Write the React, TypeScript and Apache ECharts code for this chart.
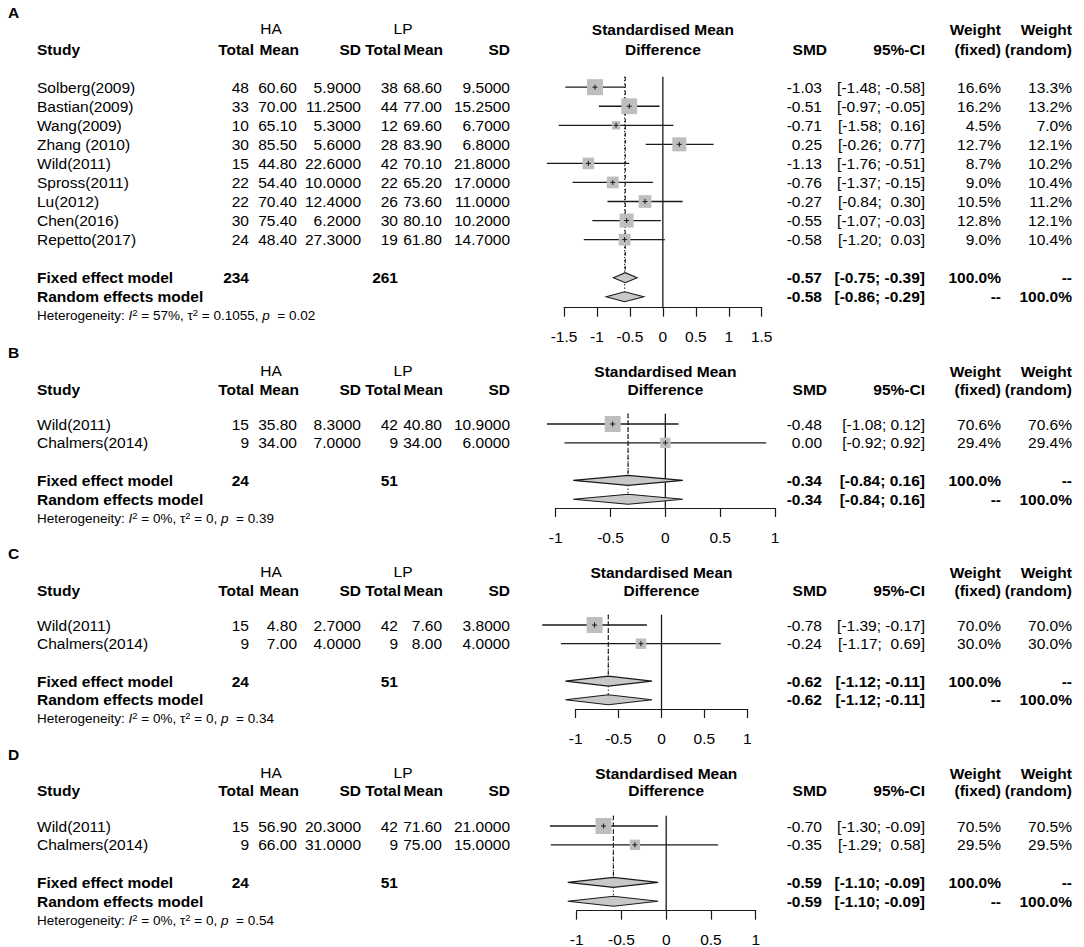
import React, { useEffect, useRef } from "react";
import * as echarts from "echarts";

// ---------------- Panel A ----------------
const studiesA = ["Solberg(2009)", "Bastian(2009)", "Wang(2009)", "Zhang (2010)", "Wild(2011)", "Spross(2011)", "Lu(2012)", "Chen(2016)", "Repetto(2017)"];
const haTotalA = [48, 33, 10, 30, 15, 22, 22, 30, 24];
const haMeanA = [60.6, 70.0, 65.1, 85.5, 44.8, 54.4, 70.4, 75.4, 48.4];
const haSdA = [5.9, 11.25, 5.3, 5.6, 22.6, 10.0, 12.4, 6.2, 27.3];
const lpTotalA = [38, 44, 12, 28, 42, 22, 26, 30, 19];
const lpMeanA = [68.6, 77.0, 69.6, 83.9, 70.1, 65.2, 73.6, 80.1, 61.8];
const lpSdA = [9.5, 15.25, 6.7, 6.8, 21.8, 17.0, 11.0, 10.2, 14.7];
const smdA = [-1.03, -0.51, -0.71, 0.25, -1.13, -0.76, -0.27, -0.55, -0.58];
const lowerA = [-1.48, -0.97, -1.58, -0.26, -1.76, -1.37, -0.84, -1.07, -1.2];
const upperA = [-0.58, -0.05, 0.16, 0.77, -0.51, -0.15, 0.3, -0.03, 0.03];
const weightFixedA = [16.6, 16.2, 4.5, 12.7, 8.7, 9.0, 10.5, 12.8, 9.0];
const weightRandomA = [13.3, 13.2, 7.0, 12.1, 10.2, 10.4, 11.2, 12.1, 10.4];
const fixedModelA = [-0.57, -0.75, -0.39];
const randomModelA = [-0.58, -0.86, -0.29];
const totalsA = [234, 261];
const heterogeneityA = ["57%", "0.1055", "0.02"];
const ticksA = [-1.5, -1, -0.5, 0, 0.5, 1, 1.5];

// ---------------- Panel B ----------------
const studiesB = ["Wild(2011)", "Chalmers(2014)"];
const haTotalB = [15, 9];
const haMeanB = [35.8, 34.0];
const haSdB = [8.3, 7.0];
const lpTotalB = [42, 9];
const lpMeanB = [40.8, 34.0];
const lpSdB = [10.9, 6.0];
const smdB = [-0.48, 0.0];
const lowerB = [-1.08, -0.92];
const upperB = [0.12, 0.92];
const weightFixedB = [70.6, 29.4];
const weightRandomB = [70.6, 29.4];
const fixedModelB = [-0.34, -0.84, 0.16];
const randomModelB = [-0.34, -0.84, 0.16];
const totalsB = [24, 51];
const heterogeneityB = ["0%", "0", "0.39"];
const ticksB = [-1, -0.5, 0, 0.5, 1];

// ---------------- Panel C ----------------
const studiesC = ["Wild(2011)", "Chalmers(2014)"];
const haTotalC = [15, 9];
const haMeanC = [4.8, 7.0];
const haSdC = [2.7, 4.0];
const lpTotalC = [42, 9];
const lpMeanC = [7.6, 8.0];
const lpSdC = [3.8, 4.0];
const smdC = [-0.78, -0.24];
const lowerC = [-1.39, -1.17];
const upperC = [-0.17, 0.69];
const weightFixedC = [70.0, 30.0];
const weightRandomC = [70.0, 30.0];
const fixedModelC = [-0.62, -1.12, -0.11];
const randomModelC = [-0.62, -1.12, -0.11];
const totalsC = [24, 51];
const heterogeneityC = ["0%", "0", "0.34"];
const ticksC = [-1, -0.5, 0, 0.5, 1];

// ---------------- Panel D ----------------
const studiesD = ["Wild(2011)", "Chalmers(2014)"];
const haTotalD = [15, 9];
const haMeanD = [56.9, 66.0];
const haSdD = [20.3, 31.0];
const lpTotalD = [42, 9];
const lpMeanD = [71.6, 75.0];
const lpSdD = [21.0, 15.0];
const smdD = [-0.7, -0.35];
const lowerD = [-1.3, -1.29];
const upperD = [-0.09, 0.58];
const weightFixedD = [70.5, 29.5];
const weightRandomD = [70.5, 29.5];
const fixedModelD = [-0.59, -1.1, -0.09];
const randomModelD = [-0.59, -1.1, -0.09];
const totalsD = [24, 51];
const heterogeneityD = ["0%", "0", "0.54"];
const ticksD = [-1, -0.5, 0, 0.5, 1];

const panelLabels = ["A", "B", "C", "D"];

type PanelData = {
  label: string;
  studies: string[];
  haTotal: number[]; haMean: number[]; haSd: number[];
  lpTotal: number[]; lpMean: number[]; lpSd: number[];
  smd: number[]; lower: number[]; upper: number[];
  wFixed: number[]; wRandom: number[];
  fixed: number[]; random: number[];
  totals: number[]; het: string[]; ticks: number[];
};

const PANELS: PanelData[] = [
  { label: panelLabels[0], studies: studiesA, haTotal: haTotalA, haMean: haMeanA, haSd: haSdA, lpTotal: lpTotalA, lpMean: lpMeanA, lpSd: lpSdA, smd: smdA, lower: lowerA, upper: upperA, wFixed: weightFixedA, wRandom: weightRandomA, fixed: fixedModelA, random: randomModelA, totals: totalsA, het: heterogeneityA, ticks: ticksA },
  { label: panelLabels[1], studies: studiesB, haTotal: haTotalB, haMean: haMeanB, haSd: haSdB, lpTotal: lpTotalB, lpMean: lpMeanB, lpSd: lpSdB, smd: smdB, lower: lowerB, upper: upperB, wFixed: weightFixedB, wRandom: weightRandomB, fixed: fixedModelB, random: randomModelB, totals: totalsB, het: heterogeneityB, ticks: ticksB },
  { label: panelLabels[2], studies: studiesC, haTotal: haTotalC, haMean: haMeanC, haSd: haSdC, lpTotal: lpTotalC, lpMean: lpMeanC, lpSd: lpSdC, smd: smdC, lower: lowerC, upper: upperC, wFixed: weightFixedC, wRandom: weightRandomC, fixed: fixedModelC, random: randomModelC, totals: totalsC, het: heterogeneityC, ticks: ticksC },
  { label: panelLabels[3], studies: studiesD, haTotal: haTotalD, haMean: haMeanD, haSd: haSdD, lpTotal: lpTotalD, lpMean: lpMeanD, lpSd: lpSdD, smd: smdD, lower: lowerD, upper: upperD, wFixed: weightFixedD, wRandom: weightRandomD, fixed: fixedModelD, random: randomModelD, totals: totalsD, het: heterogeneityD, ticks: ticksD },
];

// ---------------- Layout (pixels) ----------------
type Layout = { labelY: number; haY: number; studyY: number; row0: number; step: number; axisY: number; left: number; right: number };
const LAYOUTS: Layout[] = [
  { labelY: 12, haY: 28, studyY: 49, row0: 87.2, step: 19.05, axisY: 307.7, left: 564, right: 761.7 },
  { labelY: 352, haY: 370, studyY: 389, row0: 424, step: 18.8, axisY: 508, left: 555.7, right: 775 },
  { labelY: 553, haY: 571, studyY: 590, row0: 625, step: 18.7, axisY: 709, left: 575.7, right: 747.3 },
  { labelY: 754, haY: 772, studyY: 790, row0: 826, step: 18.8, axisY: 910.7, left: 576.7, right: 755.7 },
];

const X = {
  panelLabel: 8, study: 37,
  haTotal: 249, haTotalHead: 254, haMean: 297, haMeanHead: 299, haSd: 361,
  lpTotal: 398, lpTotalHead: 401, lpMean: 442, lpMeanHead: 443, lpSd: 510,
  haCenter: 271, lpCenter: 403,
  smd: 822, smdHead: 827, ci: 925, wFixed: 1001, wRandom: 1072,
};

const FAMILY = "'Liberation Sans', Arial, Helvetica, sans-serif";
const FS = 15.5;
const FS_BOLD = 15.5;
const FS_TICK = 15.5;
const FS_HET = 13.5;
const BOX_MAX = 16;
const DIAMOND_H = 5;
const Y_TOP = -0.55;
const LINE_COLOR = "#1a1a1a";

const font = (bold = false, size?: number) => `${bold ? "bold " : ""}${size ?? (bold ? FS_BOLD : FS)}px ${FAMILY}`;

const txt = (text: string, x: number, y: number, align: string, bold = false, size?: number) => ({
  type: "text",
  x,
  y,
  silent: true,
  style: {
    text,
    font: font(bold, size),
    fill: "#000",
    align,
    textAlign: align,
    verticalAlign: "middle",
    textVerticalAlign: "middle",
  },
});

const f2 = (v: number) => v.toFixed(2);
const f4 = (v: number) => v.toFixed(4);
const pct = (v: number) => `${v.toFixed(1)}%`;
const padLeft = (s: string, w: number) => "\u00A0".repeat(Math.max(0, w - s.length)) + s;

function buildOption() {
  const grids: any[] = [];
  const xAxes: any[] = [];
  const yAxes: any[] = [];
  const series: any[] = [];
  const graphics: any[] = [];

  PANELS.forEach((p, k) => {
    const L = LAYOUTS[k];
    const n = p.studies.length;
    const fixedRow = n + 1;
    const randomRow = n + 2;
    const hetRow = n + 3;
    const xMin = p.ticks[0];
    const xMax = p.ticks[p.ticks.length - 1];
    const yMax = (L.axisY - L.row0) / L.step;
    const gridTop = L.row0 + Y_TOP * L.step;
    const maxW = Math.max(...p.wFixed);
    const upW = Math.max(...p.upper.map(f2).map((s) => s.length), f2(p.fixed[2]).length, f2(p.random[2]).length);
    const ci = (lo: number, hi: number) => `[${f2(lo)}; ${padLeft(f2(hi), upW)}]`;
    const zeroX = L.left + ((0 - xMin) / (xMax - xMin)) * (L.right - L.left);

    grids.push({ left: L.left, width: L.right - L.left, top: gridTop, height: L.axisY - gridTop, outerBoundsMode: "none", containLabel: false });
    xAxes.push({
      gridIndex: k,
      type: "value",
      min: xMin,
      max: xMax,
      interval: p.ticks[1] - p.ticks[0],
      position: "bottom",
      axisLine: { show: true, onZero: false, lineStyle: { color: LINE_COLOR, width: 1.2 } },
      axisTick: { show: true, inside: false, length: 9, lineStyle: { color: LINE_COLOR, width: 1.2 } },
      axisLabel: { show: true, color: "#000", fontSize: FS_TICK, fontFamily: FAMILY, margin: 21, showMinLabel: true, showMaxLabel: true, hideOverlap: false },
      splitLine: { show: false },
    });
    yAxes.push({ gridIndex: k, type: "value", inverse: true, min: Y_TOP, max: yMax, show: false, splitLine: { show: false } });

    // reference lines: zero (solid), fixed (dashed), random (dotted)
    const dh = DIAMOND_H / L.step;
    series.push({
      type: "custom",
      xAxisIndex: k,
      yAxisIndex: k,
      clip: false,
      silent: true,
      z: 1,
      data: [
        [0, Y_TOP, yMax, 0],
        [p.fixed[0], Y_TOP, fixedRow - dh, 1],
        [p.random[0], Y_TOP, randomRow - dh, 2],
      ],
      renderItem: (_params: any, api: any) => {
        const t = api.coord([api.value(0), api.value(1)]);
        const b = api.coord([api.value(0), api.value(2)]);
        const kind = api.value(3);
        const dash = kind === 0 ? null : kind === 1 ? [4, 3] : [1.2, 2.2];
        return {
          type: "line",
          shape: { x1: t[0], y1: t[1], x2: b[0], y2: b[1] },
          style: { stroke: LINE_COLOR, lineWidth: kind === 0 ? 1.3 : 1.1, lineDash: dash },
        };
      },
    });

    // study rows
    series.push({
      type: "custom",
      xAxisIndex: k,
      yAxisIndex: k,
      clip: false,
      silent: true,
      z: 3,
      data: p.smd.map((v, i) => [v, i, p.lower[i], p.upper[i], p.wFixed[i]]),
      renderItem: (params: any, api: any) => {
        const i = params.dataIndex;
        const row = api.value(1);
        const c = api.coord([api.value(0), row]);
        const lo = api.coord([api.value(2), row]);
        const hi = api.coord([api.value(3), row]);
        const y = c[1];
        const size = BOX_MAX * Math.sqrt(api.value(4) / maxW);
        return {
          type: "group",
          children: [
            { type: "line", shape: { x1: lo[0], y1: y, x2: hi[0], y2: y }, style: { stroke: LINE_COLOR, lineWidth: 1.3 } },
            { type: "rect", shape: { x: c[0] - size / 2, y: y - size / 2, width: size, height: size }, style: { fill: "#BEBEBE" } },
            { type: "line", shape: { x1: c[0] - 2.5, y1: y, x2: c[0] + 2.5, y2: y }, style: { stroke: LINE_COLOR, lineWidth: 1 } },
            { type: "line", shape: { x1: c[0], y1: y - 2.5, x2: c[0], y2: y + 2.5 }, style: { stroke: LINE_COLOR, lineWidth: 1 } },
            txt(p.studies[i], X.study, y, "left"),
            txt(String(p.haTotal[i]), X.haTotal, y, "right"),
            txt(f2(p.haMean[i]), X.haMean, y, "right"),
            txt(f4(p.haSd[i]), X.haSd, y, "right"),
            txt(String(p.lpTotal[i]), X.lpTotal, y, "right"),
            txt(f2(p.lpMean[i]), X.lpMean, y, "right"),
            txt(f4(p.lpSd[i]), X.lpSd, y, "right"),
            txt(f2(p.smd[i]), X.smd, y, "right"),
            txt(ci(p.lower[i], p.upper[i]), X.ci, y, "right"),
            txt(pct(p.wFixed[i]), X.wFixed, y, "right"),
            txt(pct(p.wRandom[i]), X.wRandom, y, "right"),
          ],
        };
      },
    });

    // summary diamonds
    series.push({
      type: "custom",
      xAxisIndex: k,
      yAxisIndex: k,
      clip: false,
      silent: true,
      z: 3,
      data: [
        [p.fixed[0], fixedRow, p.fixed[1], p.fixed[2], 0],
        [p.random[0], randomRow, p.random[1], p.random[2], 1],
      ],
      renderItem: (_params: any, api: any) => {
        const row = api.value(1);
        const c = api.coord([api.value(0), row]);
        const lo = api.coord([api.value(2), row]);
        const hi = api.coord([api.value(3), row]);
        const y = c[1];
        const isFixed = api.value(4) === 0;
        const children: any[] = [
          {
            type: "polygon",
            shape: { points: [[lo[0], y], [c[0], y - DIAMOND_H], [hi[0], y], [c[0], y + DIAMOND_H]] },
            style: { fill: "#C8C8C8", stroke: LINE_COLOR, lineWidth: 1.1 },
          },
          txt(isFixed ? "Fixed effect model" : "Random effects model", X.study, y, "left", true),
          txt(f2(api.value(0)), X.smd, y, "right", true),
          txt(ci(api.value(2), api.value(3)), X.ci, y, "right", true),
          txt(isFixed ? "100.0%" : "--", X.wFixed, y, "right", true),
          txt(isFixed ? "--" : "100.0%", X.wRandom, y, "right", true),
        ];
        if (isFixed) {
          children.push(txt(String(p.totals[0]), X.haTotal, y, "right", true));
          children.push(txt(String(p.totals[1]), X.lpTotal, y, "right", true));
        }
        return { type: "group", children };
      },
    });

    // heterogeneity line
    const nb = "\u00A0";
    const hetText =
      `{n|Heterogeneity:${nb}}{i|I}{s|2}{n|${nb}=${nb}${p.het[0]},${nb}}{n|τ}{s|2}{n|${nb}=${nb}${p.het[1]},${nb}}{i|p}{n|${nb}${nb}=${nb}${p.het[2]}}`;
    series.push({
      type: "custom",
      xAxisIndex: k,
      yAxisIndex: k,
      clip: false,
      silent: true,
      data: [[xMin, hetRow]],
      renderItem: (_params: any, api: any) => {
        const c = api.coord([api.value(0), api.value(1)]);
        return {
          type: "text",
          x: X.study,
          y: c[1],
          style: {
            text: hetText,
            font: font(false, FS_HET),
            fill: "#000",
            align: "left",
            textAlign: "left",
            verticalAlign: "middle",
            textVerticalAlign: "middle",
            rich: {
              n: { fontSize: FS_HET, fontFamily: FAMILY, lineHeight: 16, fill: "#000" },
              i: { fontSize: FS_HET, fontFamily: FAMILY, fontStyle: "italic", lineHeight: 16, fill: "#000" },
              s: { fontSize: 9.5, fontFamily: FAMILY, lineHeight: 10, verticalAlign: "top", fill: "#000" },
            },
          },
        };
      },
    });

    // headers
    graphics.push(
      txt(p.label, X.panelLabel, L.labelY, "left", true),
      txt("HA", X.haCenter, L.haY, "center"),
      txt("LP", X.lpCenter, L.haY, "center"),
      txt("Study", X.study, L.studyY, "left", true),
      txt("Total", X.haTotalHead, L.studyY, "right", true),
      txt("Mean", X.haMeanHead, L.studyY, "right", true),
      txt("SD", X.haSd, L.studyY, "right", true),
      txt("Total", X.lpTotalHead, L.studyY, "right", true),
      txt("Mean", X.lpMeanHead, L.studyY, "right", true),
      txt("SD", X.lpSd, L.studyY, "right", true),
      txt("Standardised Mean", zeroX, L.haY + 1, "center", true),
      txt("Difference", zeroX, L.studyY, "center", true),
      txt("SMD", X.smdHead, L.studyY, "right", true),
      txt("95%-CI", X.ci, L.studyY, "right", true),
      txt("Weight", X.wFixed, L.haY + 1, "right", true),
      txt("(fixed)", X.wFixed, L.studyY, "right", true),
      txt("Weight", X.wRandom, L.haY + 1, "right", true),
      txt("(random)", X.wRandom, L.studyY, "right", true)
    );
  });

  return {
    animation: false,
    backgroundColor: "#fff",
    grid: grids,
    xAxis: xAxes,
    yAxis: yAxes,
    series,
    graphic: { elements: graphics },
  };
}

export default function App() {
  const ref = useRef<HTMLDivElement>(null);
  useEffect(() => {
    document.body.style.margin = "0";
    if (!ref.current) return;
    const chart = echarts.init(ref.current, null, { renderer: "svg" });
    chart.setOption(buildOption() as any);
    return () => chart.dispose();
  }, []);
  return <div ref={ref} style={{ width: 1084, height: 947 }} />;
}
